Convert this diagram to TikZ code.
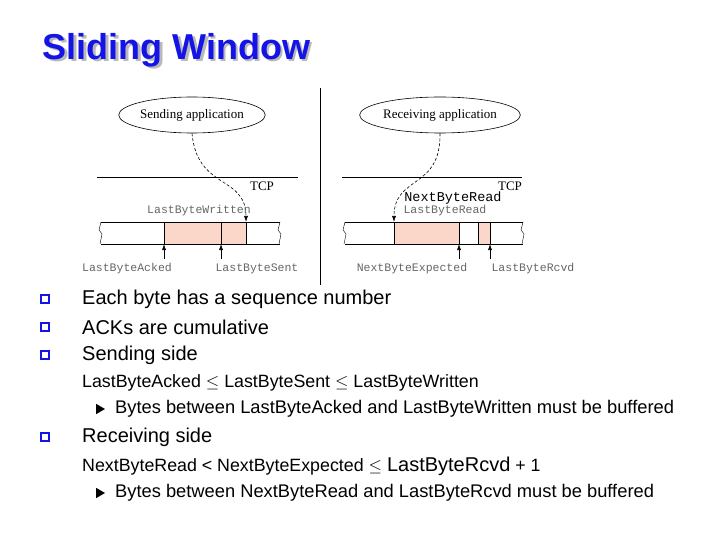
\documentclass[tikz,border=0pt]{standalone}
\usepackage{fontspec}
\setmainfont{Liberation Sans}
\newfontfamily\monof{Liberation Mono}
\newfontfamily\serf{Liberation Serif}
\usetikzlibrary{shapes.geometric,arrows.meta}
\definecolor{tblue}{RGB}{20,20,230}
\definecolor{pinkfill}{RGB}{250,215,200}
\begin{document}
\begin{tikzpicture}[x=1pt,y=-1pt,
  app/.style={ellipse,draw,semithick,minimum width=145,minimum height=36,font=\serf\fontsize{13}{14}\selectfont,inner sep=0},
  lbl/.style={font=\monof\fontsize{11.5}{12}\selectfont,text=black!60,inner sep=0},
  arr/.style={-{Latex[length=6pt,width=4pt]},semithick},
  btxt/.style={anchor=west,font=\fontsize{20}{22}\selectfont,inner sep=0},
  stxt/.style={anchor=west,font=\fontsize{17.8}{20}\selectfont,inner sep=0},
  sstxt/.style={anchor=west,font=\fontsize{18.3}{20}\selectfont,inner sep=0},
  tri/.style={isosceles triangle,fill=black,inner sep=0,minimum width=9,minimum height=9,isosceles triangle apex angle=60},
  sq/.style={draw=tblue,fill=white,minimum size=8,inner sep=0,line width=1.2pt}]
\useasboundingbox (0,0) rectangle (720,540);
% title
\node[anchor=west,font=\bfseries\fontsize{36}{40}\selectfont,text=gray!55] at (41.5,52.5) {Sliding Window};
\node[anchor=west,font=\bfseries\fontsize{36}{40}\selectfont,text=tblue] (title) at (39,50) {Sliding Window};
% divider
\draw[thick] (320,88) -- (320,285);
% LEFT
\node[app] (sapp) at (192,115) {Sending application};
\draw[semithick] (97,177) -- (298,177);
\node[font=\serf\fontsize{13}{14}\selectfont,inner sep=0] (tcp1) at (262,186) {TCP};
\fill[pinkfill] (164,222) rectangle (246,244);
\draw[semithick] (101,222) -- (280,222) (101,244) -- (280,244);
\draw (101,222) -- (99,230) -- (102,234) -- (100,244);
\draw (280,222) -- (278,230) -- (281,234) -- (279,244);
\draw[semithick] (164,222) -- (164,244) (221,222) -- (221,244) (246,222) -- (246,244);
\coordinate (w) at (246,222);
\draw[arr,densely dashed] (sapp.south) .. controls (197,190) and (246,175) .. (w);
\node[lbl] (lbw) at (199,211) {LastByteWritten};
\coordinate (a1) at (164,244); \coordinate (a2) at (221,244);
\draw[arr] (164,259) -- (a1);
\draw[arr] (221,259) -- (a2);
\node[lbl] (lba) at (127,269) {LastByteAcked};
\node[lbl] (lbs) at (257,269) {LastByteSent};
% RIGHT
\node[app] (rapp) at (440,115) {Receiving application};
\draw[semithick] (342,177) -- (522,177);
\node[font=\serf\fontsize{13}{14}\selectfont,inner sep=0] (tcp2) at (510,186) {TCP};
\fill[pinkfill] (394,222) rectangle (459,244);
\fill[pinkfill] (478,222) rectangle (490,244);
\draw[semithick] (345,222) -- (523,222) (345,244) -- (523,244);
\draw (345,222) -- (343,230) -- (346,234) -- (344,244);
\draw (523,222) -- (521,230) -- (524,234) -- (522,244);
\draw[semithick] (394,222) -- (394,244) (459,222) -- (459,244) (478,222) -- (478,244) (490,222) -- (490,244);
\coordinate (r) at (394,222);
\draw[arr,densely dashed] (rapp.south) .. controls (441,190) and (394,175) .. (r);
\node[font=\monof\fontsize{13.5}{14}\selectfont,inner sep=0] (nbr) at (453,198) {NextByteRead};
\node[lbl] (lbr) at (445,211) {LastByteRead};
\coordinate (b1) at (459,244); \coordinate (b2) at (490,244);
\draw[arr] (459,259) -- (b1);
\draw[arr] (490,259) -- (b2);
\node[lbl] (nbe) at (412,269) {NextByteExpected};
\node[lbl] (lbrc) at (533,269) {LastByteRcvd};
% bullets
\node[sq] (q1) at (45,299) {}; \node[btxt] (t1) at (82,299) {Each byte has a sequence number};
\node[sq] (q2) at (45,327) {}; \node[btxt] (t2) at (82,327) {ACKs are cumulative};
\node[sq] (q3) at (45,355) {}; \node[btxt] (t3) at (82,355) {Sending side};
\node[stxt] (t4) at (82,383) {LastByteAcked $\leq$ LastByteSent $\leq$ LastByteWritten};
\node[tri] (g1) at (99,409) {};
\node[sstxt] (t5) at (115,409) {Bytes between LastByteAcked and LastByteWritten must be buffered};
\node[sq] (q4) at (45,437) {}; \node[btxt] (t6) at (82,437) {Receiving side};
\node[stxt] (t7) at (82,466) {NextByteRead < NextByteExpected $\leq$ {\fontsize{20}{22}\selectfont LastByteRcvd} + 1};
\node[tri] (g2) at (99,493) {};
\node[sstxt] (t8) at (115,493) {Bytes between NextByteRead and LastByteRcvd must be buffered};
\end{tikzpicture}
\end{document}
